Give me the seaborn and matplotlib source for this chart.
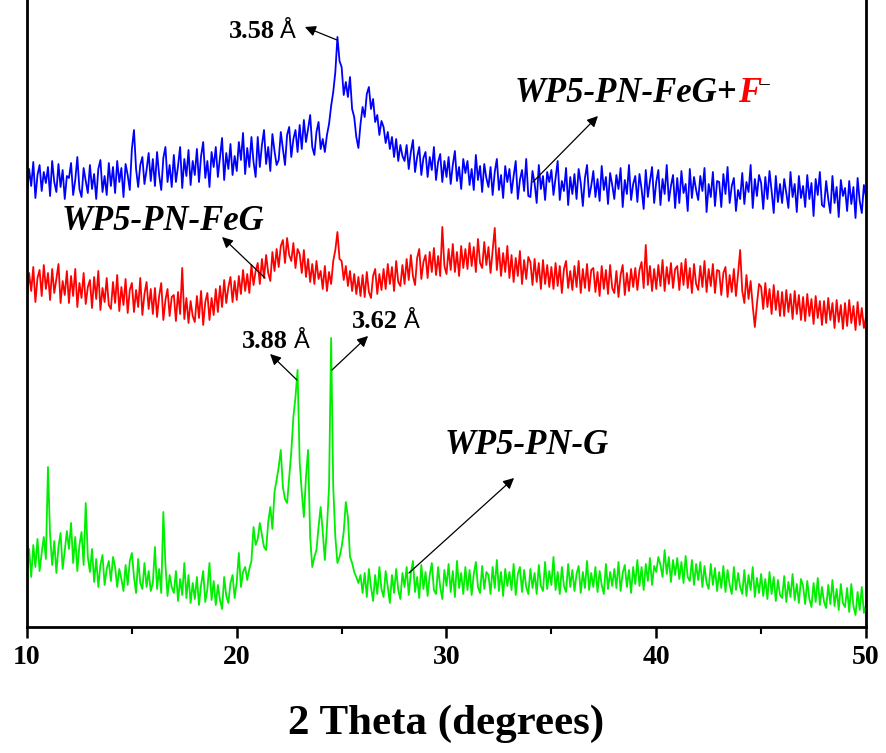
import numpy as np
import pandas as pd
import matplotlib
matplotlib.use("Agg")
import matplotlib.pyplot as plt
import seaborn as sns

# 2-theta grid: 10.0 .. 50.0 deg in 0.1 deg steps (each row below = one degree)
two_theta = np.round(np.arange(401) * 0.1 + 10.0, 1)

# WP5-PN-FeG+F- (offset trace, arbitrary intensity units)
wp5_pn_feg_f = [
    432, 458, 441, 465, 429, 452, 462, 436, 455, 444,  # 10
    460, 431, 466, 445, 435, 463, 440, 457, 428, 451,  # 11
    449, 464, 432, 447, 470, 438, 430, 459, 446, 434,  # 12
    462, 438, 453, 428, 458, 467, 435, 451, 432, 464,  # 13
    441, 460, 434, 466, 445, 459, 430, 463, 452, 437,  # 14
    478, 497, 458, 440, 462, 470, 443, 457, 474, 446,  # 15
    468, 441, 475, 452, 437, 469, 480, 445, 462, 440,  # 16
    472, 445, 461, 480, 439, 468, 451, 477, 442, 466,  # 17
    452, 478, 445, 471, 485, 449, 466, 440, 475, 460,  # 18
    480, 450, 470, 489, 447, 474, 458, 483, 452, 471,  # 19
    456, 485, 467, 494, 453, 479, 460, 490, 465, 450,  # 20
    490, 460, 482, 497, 463, 480, 456, 493, 476, 462,  # 21
    467, 495, 478, 462, 492, 500, 470, 488, 497, 475,  # 22
    502, 478, 507, 485, 498, 512, 480, 472, 495, 505,  # 23
    478, 488, 475, 492, 503, 521, 535, 555, 590, 566,  # 24
    560, 532, 545, 530, 550, 518, 510, 490, 479, 503,  # 25
    520, 510, 533, 540, 518, 528, 505, 512, 492, 506,  # 26
    500, 484, 495, 478, 490, 470, 488, 466, 482, 471,  # 27
    466, 482, 458, 475, 487, 455, 470, 480, 452, 469,  # 28
    475, 450, 470, 457, 480, 447, 465, 473, 445, 466,  # 29
    450, 470, 443, 462, 476, 446, 460, 438, 468, 454,  # 30
    466, 442, 458, 437, 472, 447, 461, 435, 463, 449,  # 31
    440, 460, 432, 455, 468, 437, 452, 429, 461, 445,  # 32
    458, 434, 451, 466, 428, 447, 457, 436, 468, 431,  # 33
    430, 456, 444, 424, 462, 438, 451, 427, 455, 445,  # 34
    457, 432, 449, 466, 427, 446, 436, 459, 422, 450,  # 35
    433, 453, 428, 458, 444, 421, 449, 462, 430, 441,  # 36
    456, 430, 448, 426, 461, 437, 450, 423, 454, 442,  # 37
    428, 452, 438, 459, 420, 447, 433, 462, 427, 443,  # 38
    451, 425, 453, 438, 418, 457, 430, 446, 460, 424,  # 39
    445, 457, 422, 448, 433, 462, 426, 441, 452, 419,  # 40
    449, 424, 456, 434, 443, 416, 458, 429, 450, 437,  # 41
    427, 451, 436, 459, 415, 443, 430, 455, 421, 446,  # 42
    445, 420, 453, 433, 460, 424, 441, 449, 416, 437,  # 43
    428, 454, 423, 445, 435, 462, 419, 448, 431, 452,  # 44
    444, 418, 450, 428, 456, 436, 414, 451, 425, 443,  # 45
    424, 448, 434, 419, 455, 430, 443, 415, 451, 429,  # 46
    441, 420, 452, 428, 444, 411, 448, 432, 455, 422,  # 47
    420, 446, 428, 414, 451, 424, 440, 410, 447, 431,  # 48
    439, 416, 446, 423, 440, 409, 449, 426, 414, 442,  # 49
    430,
]

# WP5-PN-FeG
wp5_pn_feg = [
    328, 354, 336, 360, 325, 349, 357, 331, 362, 338,  # 10
    354, 327, 358, 334, 348, 363, 324, 346, 332, 356,  # 11
    324, 351, 331, 358, 320, 344, 329, 354, 323, 340,  # 12
    347, 319, 350, 328, 356, 317, 339, 325, 349, 322,  # 13
    318, 345, 324, 352, 316, 340, 322, 348, 314, 337,  # 14
    344, 315, 337, 320, 349, 312, 333, 345, 318, 338,  # 15
    313, 339, 310, 331, 344, 307, 327, 338, 311, 330,  # 16
    332, 306, 335, 313, 359, 308, 329, 304, 326, 311,  # 17
    305, 331, 309, 336, 302, 325, 334, 307, 329, 312,  # 18
    338, 315, 341, 320, 347, 324, 340, 350, 325, 346,  # 19
    327, 351, 333, 357, 336, 353, 334, 362, 342, 356,  # 20
    364, 343, 368, 349, 372, 354, 346, 375, 356, 378,  # 21
    360, 381, 387, 364, 389, 372, 366, 384, 359, 378,  # 22
    373, 354, 377, 350, 368, 345, 363, 343, 366, 348,  # 23
    356, 338, 361, 336, 355, 343, 366, 377, 395, 368,  # 24
    366, 347, 361, 341, 356, 336, 353, 333, 350, 331,  # 25
    352, 330, 355, 335, 329, 351, 358, 333, 353, 337,  # 26
    358, 338, 363, 343, 360, 336, 366, 345, 341, 362,  # 27
    343, 368, 347, 372, 351, 342, 369, 378, 348, 365,  # 28
    372, 349, 375, 355, 379, 352, 371, 351, 400, 361,  # 29
    353, 378, 357, 383, 355, 375, 351, 381, 359, 378,  # 30
    358, 384, 361, 380, 355, 388, 364, 359, 385, 362,  # 31
    380, 354, 376, 399, 357, 379, 351, 374, 355, 381,  # 32
    349, 372, 345, 369, 351, 376, 343, 367, 348, 370,  # 33
    365, 342, 368, 345, 364, 338, 367, 343, 362, 340,  # 34
    360, 338, 364, 341, 361, 334, 358, 366, 339, 356,  # 35
    337, 361, 340, 366, 334, 358, 339, 363, 336, 357,  # 36
    359, 335, 355, 331, 361, 338, 357, 333, 362, 339,  # 37
    334, 356, 330, 352, 362, 332, 354, 336, 358, 340,  # 38
    359, 337, 357, 365, 339, 382, 342, 361, 336, 358,  # 39
    338, 362, 341, 367, 336, 360, 343, 364, 339, 358,  # 40
    361, 337, 364, 342, 368, 339, 359, 334, 363, 343,  # 41
    337, 361, 340, 366, 335, 358, 341, 363, 334, 357,  # 42
    356, 332, 354, 360, 330, 352, 335, 358, 331, 353,  # 43
    377, 336, 324, 352, 328, 346, 321, 300, 323, 343,  # 44
    340, 318, 344, 320, 338, 313, 342, 317, 336, 311,  # 45
    335, 311, 337, 315, 333, 308, 336, 313, 332, 307,  # 46
    330, 306, 333, 311, 328, 303, 331, 309, 326, 302,  # 47
    326, 304, 329, 307, 324, 299, 327, 305, 322, 298,  # 48
    324, 301, 327, 304, 321, 297, 325, 302, 319, 299,  # 49
    310,
]

# WP5-PN-G
wp5_pn_g = [
    55, 78, 50, 82, 60, 88, 56, 74, 90, 68,  # 10
    160, 92, 62, 86, 54, 80, 94, 58, 76, 96,  # 11
    78, 104, 64, 90, 56, 82, 95, 62, 124, 70,  # 12
    55, 78, 45, 68, 40, 62, 72, 42, 58, 66,  # 13
    46, 70, 60, 40, 58, 48, 36, 62, 42, 66,  # 14
    74, 50, 34, 68, 44, 38, 64, 40, 56, 36,  # 15
    44, 80, 38, 58, 34, 115, 62, 31, 52, 40,  # 16
    34, 56, 26, 48, 32, 64, 29, 52, 24, 44,  # 17
    28, 50, 22, 42, 56, 25, 38, 64, 27, 46,  # 18
    22, 42, 27, 18, 50, 31, 24, 44, 52, 29,  # 19
    45, 74, 40, 55, 60, 47, 58, 66, 100, 82,  # 20
    88, 104, 92, 80, 77, 105, 120, 98, 135, 147,  # 21
    160, 177, 140, 128, 124, 150, 175, 210, 230, 257,  # 22
    165, 135, 110, 150, 177, 90, 60, 70, 77, 100,  # 23
    120, 95, 67, 100, 140, 289, 140, 90, 64, 70,  # 24
    80, 95, 125, 110, 70, 64, 55, 50, 44, 52,  # 25
    34, 54, 30, 58, 40, 26, 52, 33, 60, 38,  # 26
    30, 56, 40, 24, 52, 34, 58, 37, 28, 54,  # 27
    40, 60, 32, 54, 66, 35, 50, 29, 62, 38,  # 28
    55, 31, 52, 64, 37, 33, 60, 40, 28, 57,  # 29
    41, 63, 35, 56, 30, 66, 39, 54, 33, 60,  # 30
    37, 57, 32, 53, 65, 40, 34, 61, 38, 55,  # 31
    52, 33, 60, 39, 67, 36, 55, 31, 58, 41,  # 32
    55, 37, 63, 32, 53, 60, 35, 57, 40, 33,  # 33
    58, 39, 54, 33, 62, 41, 36, 65, 38, 56,  # 34
    42, 70, 37, 55, 33, 60, 41, 35, 63, 40,  # 35
    57, 36, 53, 61, 34, 55, 39, 66, 37, 54,  # 36
    40, 60, 35, 56, 42, 33, 63, 38, 55, 41,  # 37
    58, 39, 65, 36, 54, 62, 40, 57, 34, 60,  # 38
    43, 67, 41, 60, 37, 63, 46, 69, 42, 61,  # 39
    55, 70, 62, 50, 77, 53, 70, 45, 67, 52,  # 40
    69, 48, 65, 44, 71, 50, 46, 67, 42, 63,  # 41
    47, 65, 40, 61, 44, 38, 63, 42, 59, 36,  # 42
    55, 39, 61, 35, 57, 42, 33, 60, 37, 54,  # 43
    40, 33, 57, 31, 52, 37, 60, 30, 49, 34,  # 44
    53, 31, 48, 28, 55, 33, 50, 26, 47, 32,  # 45
    29, 51, 25, 45, 30, 53, 27, 43, 24, 48,  # 46
    41, 23, 46, 28, 20, 44, 25, 49, 22, 40,  # 47
    25, 19, 42, 23, 47, 21, 38, 17, 43, 24,  # 48
    20, 39, 15, 43, 21, 12, 35, 17, 40, 14,  # 49
    22,
]

samples = ["WP5-PN-FeG+F", "WP5-PN-FeG", "WP5-PN-G"]
colors = ["#0000ff", "#ff0000", "#00ee00"]
x_ticks = [10, 20, 30, 40, 50]

series = [wp5_pn_feg_f, wp5_pn_feg, wp5_pn_g]
for s in series:
    assert len(s) == len(two_theta)

df = pd.concat(
    [pd.DataFrame({"two_theta": two_theta, "intensity": vals, "sample": name})
     for name, vals in zip(samples, series)],
    ignore_index=True,
)

sns.set_theme(style="ticks")
plt.rcParams["font.family"] = ["Liberation Serif", "DejaVu Serif"]
plt.rcParams["text.color"] = "black"
plt.rcParams["axes.labelcolor"] = "black"
plt.rcParams["xtick.color"] = "black"
plt.rcParams["xtick.labelcolor"] = "black"

fig = plt.figure(figsize=(8.87, 7.53), dpi=100)
ax = fig.add_axes([27 / 887, 126 / 753, 839 / 887, 627 / 753])

sns.lineplot(data=df, x="two_theta", y="intensity", hue="sample",
             palette=dict(zip(samples, colors)), estimator=None, sort=False,
             linewidth=1.3, legend=False, ax=ax)

ax.set_xlim(10, 50)
ax.set_ylim(0, 627)
ax.set_xticks(x_ticks)
ax.set_xticks([15, 25, 35, 45], minor=True)
ax.set_yticks([])
ax.set_ylabel("")
ax.tick_params(axis="x", which="major", direction="out", length=8, width=1.8,
               labelsize=20, pad=5, color="black", labelcolor="black")
ax.tick_params(axis="x", which="minor", direction="out", length=5, width=1.5,
               color="black")
for lbl in ax.get_xticklabels():
    lbl.set_fontweight("bold")
ax.set_xlabel("2 Theta (degrees)", fontsize=31, fontweight="bold", labelpad=25,
              color="black")

for side in ["left", "right", "bottom"]:
    ax.spines[side].set_linewidth(2)
    ax.spines[side].set_color("black")
ax.spines["top"].set_visible(False)

arrow = dict(arrowstyle="-|>", color="black", lw=0.9, mutation_scale=16,
             shrinkA=0, shrinkB=0)

# d-spacing call-outs
def d_label(text, pos, start, tip):
    ax.annotate("", xy=tip, xytext=start, arrowprops=arrow)
    t = ax.text(pos[0], pos[1], text, fontsize=19, fontweight="bold",
                ha="right", va="center", color="black")
    ax.annotate("Å", xy=(1, 0), xycoords=t, xytext=(4, 0),
                textcoords="offset points", ha="left", va="bottom",
                fontsize=17, color="black",
                family=["Liberation Sans", "DejaVu Sans"])

d_label("3.58", (21.8, 595), (24.78, 587), (23.25, 600))
d_label("3.88", (22.45, 285), (22.87, 247), (21.59, 273))
d_label("3.62", (27.7, 305), (24.54, 257), (26.26, 291))

# sample labels
lab = dict(fontsize=25, fontweight="bold", style="italic", va="center", ha="left")
ax.annotate("", xy=(37.22, 511), xytext=(34.12, 445), arrowprops=arrow)
t1 = ax.text(33.27, 534, "WP5-PN-FeG+", color="black", **lab)
t2 = ax.annotate("F", xy=(1, 0), xycoords=t1, ha="left", va="bottom",
                 fontsize=25, fontweight="bold", style="italic", color="#ff0000")
ax.annotate("\u2013", xy=(0.95, 1), xycoords=t2, ha="left", va="top",
            fontsize=14, fontweight="bold", color="black")

ax.annotate("", xy=(19.30, 390), xytext=(21.35, 349), arrowprops=arrow)
ax.text(11.67, 405, "WP5-PN-FeG", color="black", **lab)

ax.annotate("", xy=(33.22, 149), xytext=(28.21, 54), arrowprops=arrow)
ax.text(29.93, 182, "WP5-PN-G", color="black", **lab)

fig.savefig("out.png", dpi=100)
